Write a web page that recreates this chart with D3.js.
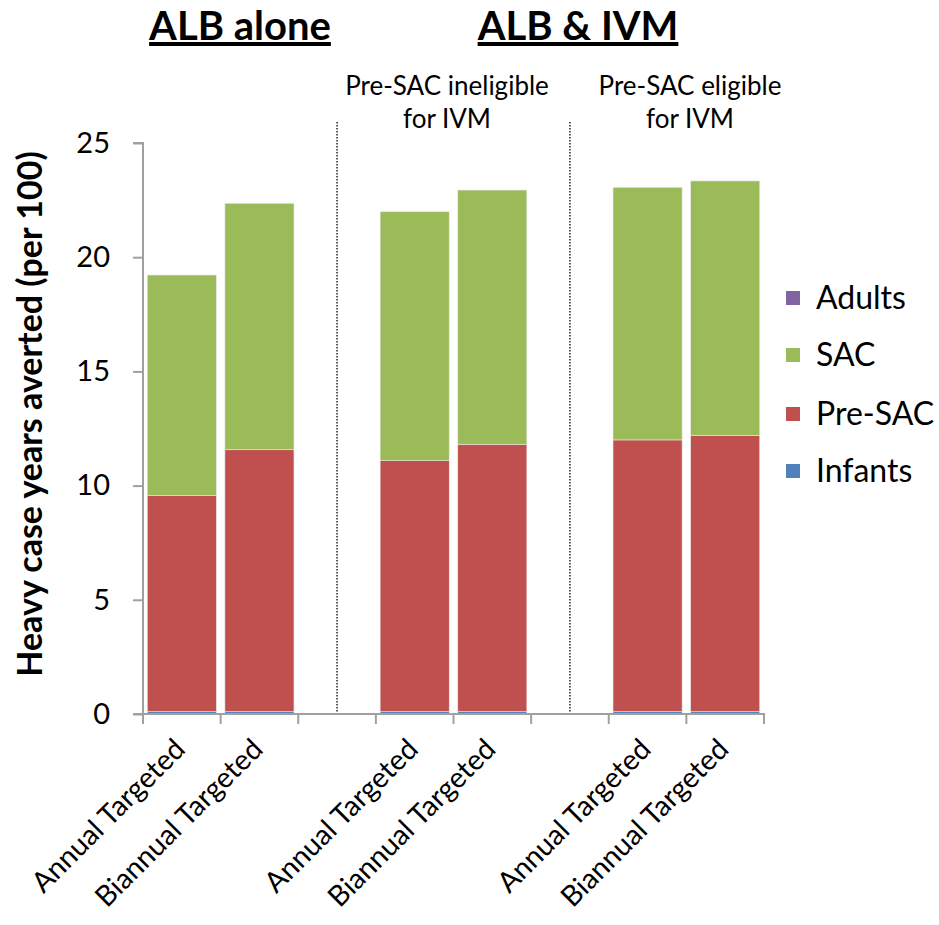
<!DOCTYPE html>
<html><head><meta charset="utf-8">
<script src="https://cdn.jsdelivr.net/npm/d3@7"></script>
<style>body{margin:0;background:#fff}svg{display:block}text{font-family:Lato,"Open Sans",sans-serif}</style>
</head><body>
<script>
// Data
const slots = ["A1","A2","gap1","B1","B2","gap2","C1","C2"];
const barSlots = ["A1","A2","B1","B2","C1","C2"];
const categories = ["Annual Targeted","Biannual Targeted","Annual Targeted","Biannual Targeted","Annual Targeted","Biannual Targeted"];
const seriesNames = ["Infants","Pre-SAC","SAC","Adults"];
const infants = [0.1,0.1,0.1,0.1,0.1,0.1];
const preSAC  = [9.46,11.47,10.99,11.71,11.9,12.09];
const sac     = [9.66,10.79,10.9,11.13,11.06,11.15];
const adults  = [0.0,0.0,0.0,0.0,0.0,0.0];
const yTicks = [0,5,10,15,20,25];
const groupTitles = ["ALB alone","ALB & IVM"];
const subTitles = [["Pre-SAC ineligible","for IVM"],["Pre-SAC eligible","for IVM"]];
const colors = {"Infants":"#4F81BD","Pre-SAC":"#C0504D","SAC":"#9BBB59","Adults":"#8064A2"};

const W=939,H=925;
const svg=d3.select("body").append("svg").attr("width",W).attr("height",H);
const x=d3.scaleBand().domain(slots).range([143,764]).paddingInner(0).paddingOuter(0);
const y=d3.scaleLinear().domain([0,25]).range([714,143]);
const bw = x.bandwidth()*0.89;

const rows = barSlots.map((s,i)=>({slot:s,cat:categories[i],"Infants":infants[i],"Pre-SAC":preSAC[i],"SAC":sac[i],"Adults":adults[i]}));
const stacked = d3.stack().keys(seriesNames)(rows);

// bars
svg.append("g").selectAll("g").data(stacked).join("g").attr("fill",d=>colors[d.key])
 .selectAll("rect").data(d=>d).join("rect")
 .attr("x",d=>x(d.data.slot)+(x.bandwidth()-bw)/2)
 .attr("width",bw)
 .attr("y",d=>y(d[1]))
 .attr("height",d=>Math.max(0,y(d[0])-y(d[1])))
 .attr("stroke","#e8e8e8").attr("stroke-width",0.6);

// dotted separators
["gap1","gap2"].forEach(g=>{
  const cx=x(g)+x.bandwidth()/2;
  svg.append("line").attr("x1",cx).attr("x2",cx).attr("y1",122).attr("y2",714)
   .attr("stroke","#222").attr("stroke-width",1.5).attr("stroke-dasharray","1.5,1.5");
});

// y axis
const ya=svg.append("g").attr("transform","translate(143,0)")
 .call(d3.axisLeft(y).tickValues(yTicks).tickSize(10).tickPadding(23));
ya.select(".domain").attr("stroke","#a0a0a0").attr("stroke-width",2).attr("d","M-10,143H0V714H-10");
ya.selectAll(".tick line").attr("stroke","#a0a0a0").attr("stroke-width",2);
ya.selectAll(".tick text").attr("font-size",29).attr("fill","#000").attr("font-family","Lato,sans-serif");

// x axis: ticks at slot boundaries
const xa=svg.append("g");
xa.append("line").attr("x1",133).attr("x2",765).attr("y1",714).attr("y2",714).attr("stroke","#a0a0a0").attr("stroke-width",2);
slots.concat(["end"]).forEach((s,i)=>{
  const xx = s==="end"? x.range()[1] : x(s);
  xa.append("line").attr("x1",xx).attr("x2",xx).attr("y1",714).attr("y2",724).attr("stroke","#a0a0a0").attr("stroke-width",2);
});
rows.forEach(r=>{
  const cx=x(r.slot)+x.bandwidth()/2+5;
  xa.append("text").attr("transform",`translate(${cx},751) rotate(-45)`)
   .attr("text-anchor","end").attr("font-size",28.5).text(r.cat);
});

// y title
svg.append("text").attr("transform","translate(42,414) rotate(-90)").attr("text-anchor","middle")
 .attr("font-size",34).attr("font-weight","bold").text("Heavy case years averted (per 100)");

// group titles
const gx=[240,578];
groupTitles.forEach((t,i)=>{
  svg.append("text").attr("x",gx[i]).attr("y",40).attr("text-anchor","middle")
   .attr("font-size",40).attr("font-weight","bold").attr("text-decoration","underline").text(t);
});
const sx=[447,690];
subTitles.forEach((lines,i)=>{
  lines.forEach((l,j)=>{
    svg.append("text").attr("x",sx[i]).attr("y",95+j*33).attr("text-anchor","middle").attr("font-size",26).text(l);
  });
});

// legend
const legendOrder=["Adults","SAC","Pre-SAC","Infants"];
const ly=[298,355,414,471];
legendOrder.forEach((k,i)=>{
  svg.append("rect").attr("x",786).attr("y",ly[i]-7).attr("width",14).attr("height",14).attr("fill",colors[k]);
  svg.append("text").attr("x",816).attr("y",ly[i]+11).attr("font-size",32).text(k);
});
</script>
</body></html>
